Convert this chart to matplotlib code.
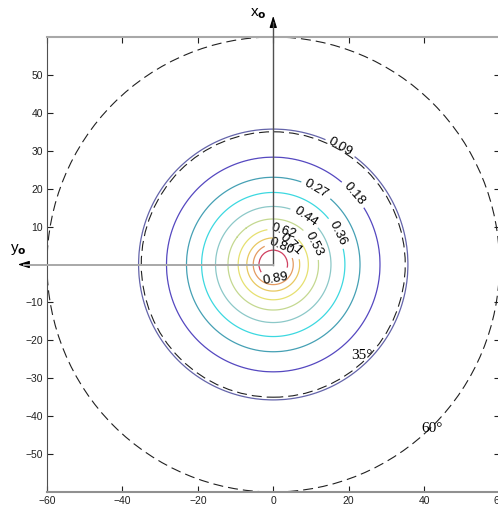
import numpy as np
import matplotlib
matplotlib.use("Agg")
import matplotlib.pyplot as plt
from matplotlib.patches import Circle

# contour levels and the radius (deg) where each one crosses
levels = [0.09, 0.18, 0.27, 0.36, 0.44, 0.53, 0.62, 0.71, 0.80, 0.89]
radii = [35.7, 28.3, 23.0, 19.0, 15.3, 12.0, 9.3, 7.0, 5.3, 3.8]
level_colors = ['#6464aa', '#5548c0', '#45a0b4', '#3cd8e0', '#8cc8c8',
                '#c4d890', '#e6e070', '#e8c860', '#e49a60', '#d04060']
# angle (deg) of each inline label around the centre
label_angles = [60, 41, 60, 26, 56, 27, 72, 48, 67, -80]

# zenith circles
zenith_radii = [35, 60]
zenith_labels = ['35°', '60°']
zenith_label_pos = [(23.6, -24.0), (42.2, -43.3)]

xticks = [-60, -40, -20, 0, 20, 40, 60]
yticks = [-50, -40, -30, -20, -10, 10, 20, 30, 40, 50]

plt.rcParams['font.family'] = ['Liberation Sans', 'DejaVu Sans']

fig = plt.figure(figsize=(4.98, 5.09), dpi=100)
ax = fig.add_axes([47 / 498, 17 / 509, 452.5 / 498, 455 / 509])

# radial field built from the read crossings
g = np.linspace(-60, 60, 701)
X, Y = np.meshgrid(g, g)
R = np.hypot(X, Y)
r_pts = [0.0] + radii[::-1] + [70.0]
v_pts = [0.98] + levels[::-1] + [-0.2]
Z = np.interp(R, r_pts, v_pts)

cs = ax.contour(X, Y, Z, levels=levels, colors=level_colors, linewidths=0.9)
pos = [(r * np.cos(np.radians(a)), r * np.sin(np.radians(a)))
       for r, a in zip(radii, label_angles)]
ax.clabel(cs, levels, inline=True, fmt='%.2f', fontsize=9.5, colors='k',
          manual=pos, inline_spacing=4)

for rz in zenith_radii:
    ax.add_patch(Circle((0, 0), rz, fill=False, ec='#202020', lw=0.8,
                        ls=(0, (9, 4.5))))
for t, (tx, ty) in zip(zenith_labels, zenith_label_pos):
    ax.text(tx, ty, t, fontsize=11, family='Liberation Serif',
            ha='center', va='center')

# local frame arrows
ax.plot([0, 0], [0, 64], color='#505050', lw=1.0, clip_on=False, zorder=5)
ax.plot([0, -66], [0, 0], color='#a8a8a8', lw=1.4, clip_on=False, zorder=5)
ax.annotate('', xy=(0, 66.3), xytext=(0, 62.5), annotation_clip=False,
            arrowprops=dict(arrowstyle='-|>,head_length=0.7,head_width=0.22',
                            color='k', lw=0.8))
ax.annotate('', xy=(-68.5, 0), xytext=(-64.5, 0), annotation_clip=False,
            arrowprops=dict(arrowstyle='-|>,head_length=0.7,head_width=0.22',
                            color='k', lw=0.8))
ax.text(-1.8, 66.2, r'x$_\mathbf{o}$', fontsize=11, ha='right', va='center')
ax.text(-67.6, 4.0, r'y$_\mathbf{o}$', fontsize=11, ha='center', va='center')

ax.set_xlim(-60, 60)
ax.set_ylim(-60, 60)
ax.set_xticks(xticks)
ax.set_yticks(yticks)
ax.tick_params(direction='in', top=True, right=True, length=4, width=0.8,
               labelsize=7.5, pad=3, colors='#202020')
ax.spines['left'].set_color('#505050')
ax.spines['top'].set_color('#a8a8a8')
ax.spines['bottom'].set_color('#909090')
ax.spines['top'].set_linewidth(1.5)
ax.spines['bottom'].set_linewidth(1.5)

fig.savefig('out.png', dpi=100)
